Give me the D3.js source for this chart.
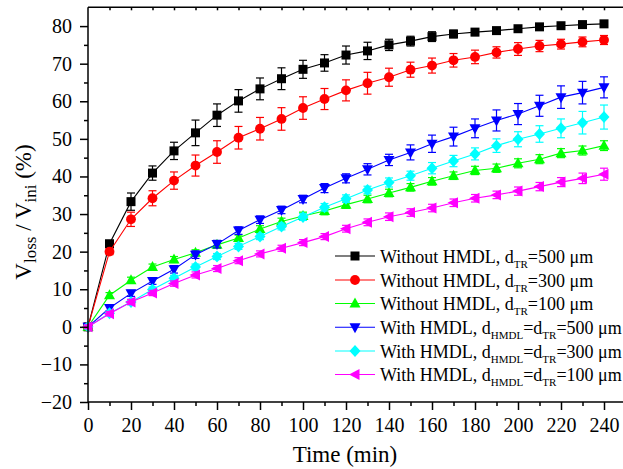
<!DOCTYPE html>
<html>
<head>
<meta charset="utf-8">
<script src="https://cdn.jsdelivr.net/npm/d3@7"></script>
<style>
  html, body { margin: 0; padding: 0; background: #fff; }
  svg { display: block; }
  svg text { font-family: "Liberation Serif", "Times New Roman", serif; fill: #000; }
</style>
</head>
<body>
<svg id="chart" width="623" height="469"></svg>
<script>
// Sampling times (min)
const time = [0, 10, 20, 30, 40, 50, 60, 70, 80, 90, 100, 110, 120, 130, 140, 150, 160, 170, 180, 190, 200, 210, 220, 230, 240];

// Volume loss ratio V_loss / V_ini (%) and standard deviations
const noHmdl500 = [0, 22.1, 33.3, 40.9, 46.8, 51.6, 56.3, 60.1, 63.3, 66.0, 68.5, 70.2, 72.3, 73.4, 75.0, 76.0, 77.2, 77.9, 78.4, 78.8, 79.3, 79.8, 80.1, 80.4, 80.6];
const noHmdl500Err = [0.3, 0.8, 2.3, 1.9, 2.3, 3.4, 3.0, 3.0, 2.9, 2.9, 2.4, 2.2, 2.4, 2.3, 1.5, 1.3, 1.3, 1.0, 0.9, 0.8, 0.8, 0.7, 0.7, 0.7, 0.7];

const noHmdl300 = [0, 20.0, 28.6, 34.2, 38.9, 42.9, 46.5, 50.3, 52.7, 55.3, 58.2, 60.6, 62.9, 64.8, 66.4, 68.4, 69.5, 70.9, 71.8, 73.0, 73.9, 74.7, 75.2, 75.8, 76.3];
const noHmdl300Err = [0.3, 0.8, 1.9, 2.0, 2.3, 2.8, 3.0, 3.0, 3.0, 3.0, 3.0, 2.8, 2.8, 2.9, 2.4, 2.0, 2.0, 1.8, 1.8, 1.5, 1.7, 1.5, 1.3, 1.3, 1.2];

const noHmdl100 = [0, 8.4, 12.4, 15.9, 17.9, 19.7, 21.8, 23.6, 26.0, 28.0, 29.5, 30.8, 32.5, 34.0, 35.6, 37.1, 38.7, 40.2, 41.6, 42.2, 43.5, 44.6, 46.2, 46.9, 48.2];
const noHmdl100Err = [0.5, 0.7, 0.8, 0.8, 0.8, 0.8, 0.8, 0.8, 0.9, 0.9, 1.0, 1.0, 1.0, 1.0, 1.0, 1.0, 1.0, 1.0, 1.1, 1.1, 1.2, 1.2, 1.2, 1.2, 1.3];

const hmdl500 = [0, 5.0, 8.9, 12.2, 15.3, 19.2, 22.0, 25.6, 28.5, 31.1, 34.0, 36.9, 39.5, 41.9, 44.4, 46.4, 48.7, 50.6, 52.8, 54.9, 56.6, 58.8, 61.1, 62.3, 63.7];
const hmdl500Err = [0.5, 0.8, 0.8, 0.9, 1.0, 1.0, 1.0, 1.0, 1.0, 1.0, 1.0, 1.2, 1.2, 1.5, 1.5, 2.0, 2.3, 2.5, 2.5, 2.8, 2.8, 2.8, 3.0, 3.0, 2.8];

const hmdl300 = [0, 3.6, 6.6, 9.9, 12.9, 15.9, 18.7, 21.4, 24.0, 26.7, 29.2, 31.8, 34.1, 36.4, 38.4, 40.2, 42.2, 44.1, 46.0, 48.2, 49.9, 51.3, 52.8, 54.3, 55.8];
const hmdl300Err = [0.5, 0.6, 0.7, 0.7, 0.8, 0.8, 0.8, 0.8, 0.8, 0.9, 0.9, 1.0, 1.0, 1.0, 1.2, 1.2, 1.5, 1.5, 1.6, 1.8, 2.0, 2.2, 2.5, 3.0, 3.2];

const hmdl100 = [0, 3.5, 6.6, 9.0, 11.5, 13.8, 15.5, 17.6, 19.4, 20.9, 22.4, 24.0, 26.1, 27.8, 29.3, 30.4, 31.6, 33.0, 34.2, 35.1, 36.1, 37.3, 38.5, 39.5, 40.6];
const hmdl100Err = [0.5, 0.6, 0.7, 0.7, 0.7, 0.8, 0.8, 0.8, 0.8, 0.8, 0.8, 0.8, 0.9, 0.9, 1.0, 1.0, 1.0, 1.0, 1.0, 1.0, 1.1, 1.1, 1.2, 1.4, 1.6];

const xTicks = [0, 20, 40, 60, 80, 100, 120, 140, 160, 180, 200, 220, 240];
const yTicks = [-20, -10, 0, 10, 20, 30, 40, 50, 60, 70, 80];

const FONT = "'Liberation Serif', 'Times New Roman', serif";

// Marker shapes drawn around (0,0)
const shapes = {
  square: "M-4.5,-4.5H4.5V4.5H-4.5Z",
  circle: d3.symbol(d3.symbolCircle, 76)(),
  up: "M0,-6L5.5,4L-5.5,4Z",
  down: "M0,6L5.5,-4L-5.5,-4Z",
  diamond: "M0,-6L5.5,0L0,6L-5.5,0Z",
  left: "M-6,0L4.5,-5.5L4.5,5.5Z"
};

const series = [
  { values: noHmdl500, err: noHmdl500Err, color: "#000000", shape: "square",
    label: [["Without HMDL, d", 0], ["TR", 1], ["=500 μm", 0]] },
  { values: noHmdl300, err: noHmdl300Err, color: "#ff0000", shape: "circle",
    label: [["Without HMDL, d", 0], ["TR", 1], ["=300 μm", 0]] },
  { values: noHmdl100, err: noHmdl100Err, color: "#00ff00", shape: "up",
    label: [["Without HMDL, d", 0], ["TR", 1], ["=100 μm", 0]] },
  { values: hmdl500, err: hmdl500Err, color: "#0000ff", shape: "down",
    label: [["With HMDL, d", 0], ["HMDL", 1], ["=d", 0], ["TR", 1], ["=500 μm", 0]] },
  { values: hmdl300, err: hmdl300Err, color: "#00ffff", shape: "diamond",
    label: [["With HMDL, d", 0], ["HMDL", 1], ["=d", 0], ["TR", 1], ["=300 μm", 0]] },
  { values: hmdl100, err: hmdl100Err, color: "#ff00ff", shape: "left",
    label: [["With HMDL, d", 0], ["HMDL", 1], ["=d", 0], ["TR", 1], ["=100 μm", 0]] }
];

const svg = d3.select("#chart");
const plotLeft = 88, plotTop = 7.3, plotBottom = 402;

const x = d3.scaleLinear().domain([0, 250]).range([plotLeft, plotLeft + 250 * 2.15]);
const y = d3.scaleLinear().domain([-20, 85]).range([plotBottom, plotTop]);

// Data layer
const plot = svg.append("g");
const line = d3.line().x(d => x(d[0])).y(d => y(d[1]));

series.forEach(s => {
  const pts = time.map((t, i) => [t, s.values[i], s.err[i]]);
  const g = plot.append("g");
  g.append("path")
    .attr("d", line(pts))
    .attr("fill", "none")
    .attr("stroke", s.color)
    .attr("stroke-width", 1.1);
  // error bars
  const eb = g.selectAll(".eb").data(pts).join("g").attr("class", "eb")
    .attr("stroke", s.color).attr("stroke-width", 1.2).attr("fill", "none");
  eb.append("line")
    .attr("x1", d => x(d[0])).attr("x2", d => x(d[0]))
    .attr("y1", d => y(d[1] - d[2])).attr("y2", d => y(d[1] + d[2]));
  eb.append("line")
    .attr("x1", d => x(d[0]) - 4).attr("x2", d => x(d[0]) + 4)
    .attr("y1", d => y(d[1] + d[2])).attr("y2", d => y(d[1] + d[2]));
  eb.append("line")
    .attr("x1", d => x(d[0]) - 4).attr("x2", d => x(d[0]) + 4)
    .attr("y1", d => y(d[1] - d[2])).attr("y2", d => y(d[1] - d[2]));
  // markers
  g.selectAll(".mk").data(pts).join("path").attr("class", "mk")
    .attr("d", shapes[s.shape])
    .attr("transform", d => `translate(${x(d[0])},${y(d[1])})`)
    .attr("fill", s.color);
});

// Axes
const axisStroke = 1.5;
const yAxis = svg.append("g").attr("transform", `translate(${plotLeft},0)`)
  .call(d3.axisLeft(y).tickValues(yTicks).tickSize(8).tickPadding(8).tickFormat(d3.format("d")));
const yMinor = svg.append("g").attr("transform", `translate(${plotLeft},0)`)
  .call(d3.axisLeft(y).tickValues(d3.range(-15, 85, 10)).tickSize(4).tickFormat(""));
const xAxis = svg.append("g").attr("transform", `translate(0,${plotBottom})`)
  .call(d3.axisBottom(x).tickValues(xTicks).tickSize(8).tickPadding(8).tickFormat(d3.format("d")));
const xMinor = svg.append("g").attr("transform", `translate(0,${plotBottom})`)
  .call(d3.axisBottom(x).tickValues(d3.range(10, 250, 20)).tickSize(4).tickFormat(""));
const xTop = svg.append("g").attr("transform", `translate(0,${plotTop})`)
  .call(d3.axisBottom(x).tickValues(d3.range(10, 250, 10)).tickSize(3).tickFormat(""));

[yAxis, yMinor, xAxis, xMinor, xTop].forEach(a => {
  a.attr("font-family", FONT).attr("font-size", 20);
  a.select(".domain").attr("stroke", "#000").attr("stroke-width", axisStroke);
  a.selectAll(".tick line").attr("stroke", "#000").attr("stroke-width", axisStroke);
  a.selectAll("text").attr("fill", "#000")
    .style("font-family", FONT)
    .style("font-size", "20px");
});
yMinor.select(".domain").remove();
xMinor.select(".domain").remove();
yAxis.select(".domain").attr("d", `M0,${plotTop}V${plotBottom}`);
xAxis.select(".domain").attr("d", `M${plotLeft},0H${x(250)}`);
xTop.select(".domain").attr("d", `M${plotLeft},0H${x(250)}`);

// Axis titles
svg.append("text")
  .attr("x", 345).attr("y", 462)
  .attr("text-anchor", "middle")
  .style("font-family", FONT)
  .style("font-size", "23px")
  .text("Time (min)");

const yt = svg.append("text")
  .attr("transform", "translate(31,212) rotate(-90)")
  .attr("text-anchor", "middle")
  .style("font-family", FONT)
  .style("font-size", "23px");
yt.append("tspan").text("V");
yt.append("tspan").attr("dy", 5).style("font-size", "17px").text("loss");
yt.append("tspan").attr("dy", -5).text(" / V");
yt.append("tspan").attr("dy", 5).style("font-size", "17px").text("ini");
yt.append("tspan").attr("dy", -5).text(" (%)");

// Legend
const legend = svg.append("g");
const rowY = [256, 280, 303.5, 327.3, 351, 374.5];
series.forEach((s, i) => {
  const g = legend.append("g").attr("transform", `translate(0,${rowY[i]})`);
  g.append("line").attr("x1", 335).attr("x2", 375).attr("y1", 0).attr("y2", 0)
    .attr("stroke", s.color).attr("stroke-width", 1.1);
  g.append("path").attr("d", shapes[s.shape]).attr("transform", "translate(355,0)").attr("fill", s.color);
  const t = g.append("text").attr("x", 380).attr("y", 6.5)
    .style("font-family", FONT).style("font-size", "18px");
  let shifted = false;
  s.label.forEach(([str, sub]) => {
    const ts = t.append("tspan").text(str);
    if (sub && !shifted) { ts.attr("dy", 5).style("font-size", "11px"); shifted = true; }
    else if (!sub && shifted) { ts.attr("dy", -5); shifted = false; }
    else if (sub) { ts.style("font-size", "11px"); }
  });
});
</script>
</body>
</html>
